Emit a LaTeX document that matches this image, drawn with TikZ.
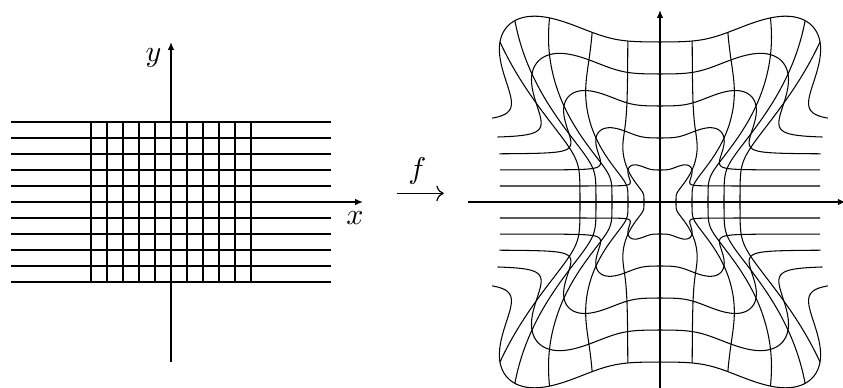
\documentclass[tikz,border=0pt]{standalone}
\usetikzlibrary{arrows.meta}
\begin{document}
\begin{tikzpicture}[x=5.3333pt,y=5.3333pt,
  gridline/.style={line width=0.6pt},
  curve/.style={line width=0.35pt},
  axis/.style={line width=0.7pt,-{Latex[length=2.6pt,width=2.2pt]}},
  maparrow/.style={line width=0.4pt,-{Computer Modern Rightarrow}},
  declare function={
    th(\a,\b)=atan2(abs(\a),abs(\b));
    sf(\a,\b)=1+1/(1+exp(min((th(\a,\b)-51)/4.1,9)))+0.34*exp(-pow((th(\a,\b)-35)/13,2));
  }]
\useasboundingbox (-10.6875,-11.625) rectangle (42,12.625);
% left grid
\foreach \k in {-5,-4,-3,-2,-1,1,2,3,4,5} {
  \draw[gridline] (-10,\k) -- (10,\k);
  \draw[gridline] (\k,-5) -- (\k,5);
}
\coordinate (lxa) at (-10,0);
\coordinate (lxb) at (12,0);
\coordinate (lya) at (0,-10);
\coordinate (lyb) at (0,10);
\draw[axis] (lxa) -- (lxb);
\draw[axis] (lya) -- (lyb);
\node (xlab) at (11.5,-1.0) {$x$};
\node (ylab) at (-1.1,9.0) {$y$};
% map arrow
\coordinate (fa) at (14.1,0.54);
\coordinate (fb) at (17.05,0.54);
\draw[maparrow] (fa) -- (fb);
\node[inner sep=0pt] (flab) at (15.4,1.95) {$f$};
% right picture
\begin{scope}[shift={(30.5625,0)}]
\foreach \k in {-5,-4,-3,-2,-1,1,2,3,4,5} {
  \draw[curve] plot[domain=-10:10,samples=321,variable=\u] ({\u*sf(\u,\k)},{\k*sf(\u,\k)});
}
\foreach \j in {-5,-4,-3,-2,-1,1,2,3,4,5} {
  \draw[curve] plot[domain=-5:5,samples=241,variable=\u] ({\j*sf(\j,\u)},{\u*sf(\j,\u)});
}
\coordinate (rxa) at (-12,0);
\coordinate (rxb) at (11.6,0);
\coordinate (rya) at (0,-12);
\coordinate (ryb) at (0,12);
\draw[axis] (rxa) -- (rxb);
\draw[axis] (rya) -- (ryb);
\end{scope}
\end{tikzpicture}
\end{document}
